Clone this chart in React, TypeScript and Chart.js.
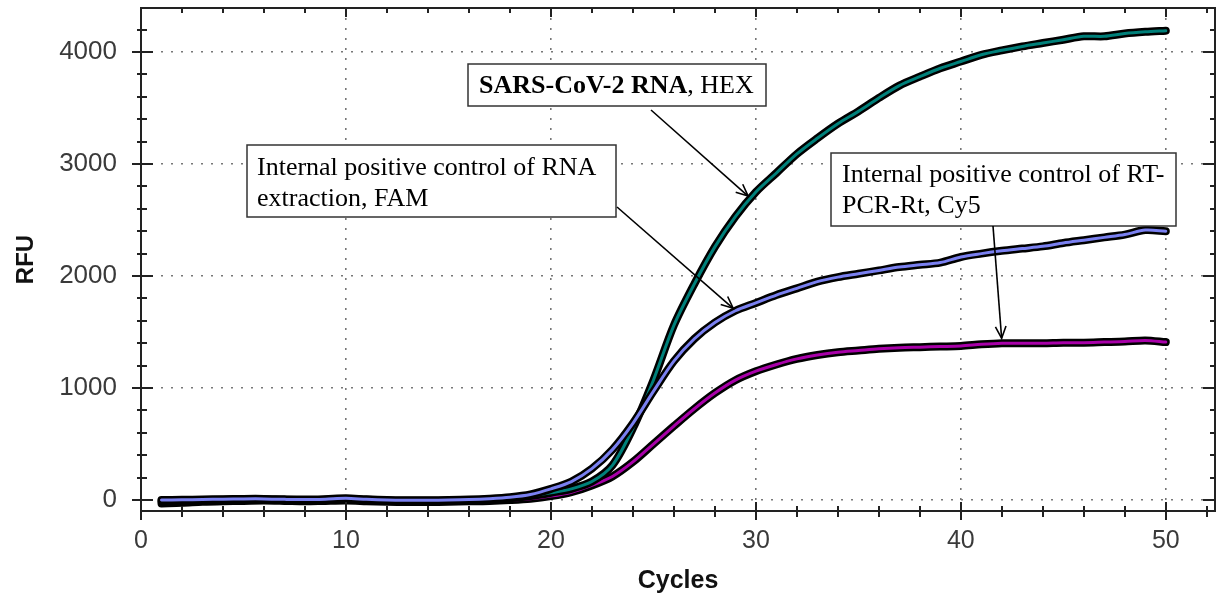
import React, { useEffect, useRef } from 'react';
import { Chart, registerables } from 'chart.js';

Chart.register(...registerables);

// ---- data ----
const cycles = [
  1, 2, 3, 4, 5, 6, 7, 8, 9, 10,
  11, 12, 13, 14, 15, 16, 17, 18, 19, 20,
  21, 22, 23, 24, 25, 26, 27, 28, 29, 30,
  31, 32, 33, 34, 35, 36, 37, 38, 39, 40,
  41, 42, 43, 44, 45, 46, 47, 48, 49, 50,
];

const hexValues = [
  -10, -8, -2, 3, 5, 6, 2, 0, 4, 10,
  2, -4, -6, -6, -5, -2, 5, 15, 35, 65,
  100, 165, 310, 640, 1070, 1560, 1930, 2260, 2530, 2750,
  2920, 3090, 3230, 3360, 3470, 3590, 3700, 3780, 3855, 3915,
  3975, 4015, 4050, 4080, 4110, 4140, 4140, 4165, 4180, 4190,
];

const famValues = [
  0, 2, 5, 8, 10, 10, 6, 4, 8, 15,
  6, 0, -2, -2, 0, 4, 12, 25, 50, 100,
  165, 280, 450, 685, 970, 1240, 1440, 1585, 1690, 1760,
  1830, 1890, 1950, 1990, 2020, 2050, 2080, 2100, 2120, 2170,
  2200, 2225, 2245, 2265, 2295, 2320, 2345, 2370, 2410, 2400,
];

const cy5Values = [
  -30, -25, -15, -10, -8, -5, -8, -12, -8, -5,
  -10, -15, -18, -18, -15, -12, -8, 0, 12, 35,
  70, 130, 210, 340, 500, 660, 815, 955, 1070, 1150,
  1210, 1260, 1295, 1320, 1335, 1350, 1360, 1365, 1370, 1375,
  1390, 1400, 1400, 1400, 1405, 1405, 1410, 1415, 1425, 1410,
];

const xTickValues = [0, 10, 20, 30, 40, 50];
const xTickLabels = ['0', '10', '20', '30', '40', '50'];
const yTickValues = [0, 1000, 2000, 3000, 4000];
const yTickLabels = ['0', '1000', '2000', '3000', '4000'];

const X_MIN = 0;
const X_MAX = 52.4;
const Y_MIN = -98;
const Y_MAX = 4393;
const X_MINOR = 2;
const Y_MINOR = 200;

// annotation arrow targets in data coordinates [cycle, RFU]
const hexArrowTip = [29.62, 2714];
const famArrowTip = [28.89, 1712];
const cy5ArrowTip = [41.99, 1444];

const SERIF = '"Liberation Serif", "Times New Roman", serif';
const SANS = '"Liberation Sans", Arial, sans-serif';

function drawArrow(ctx: CanvasRenderingContext2D, x1: number, y1: number, x2: number, y2: number) {
  ctx.beginPath();
  ctx.moveTo(x1, y1);
  ctx.lineTo(x2, y2);
  ctx.stroke();
  const ang = Math.atan2(y2 - y1, x2 - x1);
  const len = 13;
  const spread = 0.42;
  ctx.beginPath();
  ctx.moveTo(x2 - len * Math.cos(ang - spread), y2 - len * Math.sin(ang - spread));
  ctx.lineTo(x2, y2);
  ctx.lineTo(x2 - len * Math.cos(ang + spread), y2 - len * Math.sin(ang + spread));
  ctx.stroke();
}

function drawBox(ctx: CanvasRenderingContext2D, l: number, t: number, r: number, b: number) {
  ctx.fillStyle = '#ffffff';
  ctx.fillRect(l, t, r - l, b - t);
  ctx.strokeStyle = '#333333';
  ctx.lineWidth = 1.5;
  ctx.strokeRect(l, t, r - l, b - t);
}

const framePlugin = {
  id: 'frameTicks',
  afterDatasetsDraw(chart: any) {
    const { ctx, chartArea: a, scales } = chart;
    const xs = scales.x;
    const ys = scales.y;
    ctx.save();
    ctx.strokeStyle = '#222222';
    ctx.lineWidth = 2;
    ctx.strokeRect(a.left, a.top, a.right - a.left, a.bottom - a.top);
    // x ticks
    for (let v = X_MIN; v <= X_MAX + 1e-6; v += X_MINOR) {
      const px = Math.round(xs.getPixelForValue(v));
      const major = xTickValues.includes(v);
      ctx.beginPath();
      ctx.moveTo(px, a.bottom - (major ? 9 : 5));
      ctx.lineTo(px, a.bottom + (major ? 9 : 6));
      ctx.moveTo(px, a.top);
      ctx.lineTo(px, a.top + (major ? 9 : 5));
      ctx.stroke();
    }
    // y ticks
    for (let v = 0; v <= Y_MAX + 1e-6; v += Y_MINOR) {
      const py = Math.round(ys.getPixelForValue(v));
      const major = yTickValues.includes(v);
      ctx.beginPath();
      ctx.moveTo(a.left - (major ? 9 : 4), py);
      ctx.lineTo(a.left + (major ? 12 : 6), py);
      ctx.moveTo(a.right, py);
      ctx.lineTo(a.right - (major ? 12 : 5), py);
      ctx.stroke();
    }
    ctx.restore();

    // annotations
    ctx.save();
    ctx.textBaseline = 'alphabetic';
    // HEX box
    drawBox(ctx, 468, 64, 766, 106);
    ctx.fillStyle = '#000000';
    ctx.font = `bold 26px ${SERIF}`;
    const boldTxt = 'SARS-CoV-2 RNA';
    ctx.fillText(boldTxt, 479, 93);
    const bw = ctx.measureText(boldTxt).width;
    ctx.font = `26px ${SERIF}`;
    ctx.fillText(', HEX', 479 + bw, 93);

    // FAM box
    drawBox(ctx, 247, 145, 616, 217);
    ctx.fillStyle = '#000000';
    ctx.font = `26px ${SERIF}`;
    ctx.fillText('Internal positive control of RNA', 257, 175);
    ctx.fillText('extraction, FAM', 257, 206);

    // Cy5 box
    drawBox(ctx, 831, 153, 1176, 226);
    ctx.fillStyle = '#000000';
    ctx.font = `26px ${SERIF}`;
    ctx.fillText('Internal positive control of RT-', 842, 182);
    ctx.fillText('PCR-Rt, Cy5', 842, 213);

    ctx.strokeStyle = '#000000';
    ctx.lineWidth = 1.6;
    drawArrow(ctx, 651, 110, xs.getPixelForValue(hexArrowTip[0]), ys.getPixelForValue(hexArrowTip[1]));
    drawArrow(ctx, 617, 207, xs.getPixelForValue(famArrowTip[0]), ys.getPixelForValue(famArrowTip[1]));
    drawArrow(ctx, 993, 226, xs.getPixelForValue(cy5ArrowTip[0]), ys.getPixelForValue(cy5ArrowTip[1]));
    ctx.restore();
  },
};

function series(values: number[]) {
  return cycles.map((c, i) => ({ x: c, y: values[i] }));
}

export default function App() {
  const ref = useRef<HTMLCanvasElement | null>(null);
  useEffect(() => {
    document.body.style.margin = '0';
    const canvas = ref.current;
    if (!canvas) return;
    const line = (values: number[], color: string, width: number, order: number) => ({
      data: series(values),
      borderColor: color,
      borderWidth: width,
      pointRadius: 0,
      tension: 0.3,
      fill: false,
      order,
      borderCapStyle: 'round' as const,
      borderJoinStyle: 'round' as const,
    });
    const chart = new Chart(canvas, {
      type: 'line',
      data: {
        datasets: [
          line(cy5Values, '#000000', 8, 6),
          line(cy5Values, '#a800a8', 3, 5),
          line(hexValues, '#000000', 8, 4),
          line(hexValues, '#00807a', 3, 3),
          line(famValues, '#000000', 8, 2),
          line(famValues, '#7a80f0', 3, 1),
        ],
      },
      options: {
        animation: false,
        responsive: false,
        devicePixelRatio: 1,
        layout: { padding: { top: 8, right: 6, left: 0, bottom: 0 } },
        plugins: { legend: { display: false }, tooltip: { enabled: false } },
        scales: {
          x: {
            type: 'linear',
            min: X_MIN,
            max: X_MAX,
            border: { display: false, dash: [2, 8] },
            grid: {
              drawTicks: false,
              color: '#777777',
              lineWidth: 1.6,
            },
            afterBuildTicks: (s: any) => {
              s.ticks = xTickValues.map((v) => ({ value: v }));
            },
            ticks: {
              autoSkip: false,
              maxRotation: 0,
              padding: 15,
              color: '#3a3a3a',
              font: { family: SANS, size: 25 },
              callback: (_v: any, i: number) => xTickLabels[i],
            },
            title: {
              display: true,
              text: 'Cycles',
              color: '#111111',
              font: { family: SANS, size: 25, weight: 'bold' },
              padding: { top: 0, bottom: 5 },
            },
            afterFit: (s: any) => {
              s.height = 90;
              s.paddingLeft = 0;
              s.paddingRight = 0;
            },
          },
          y: {
            type: 'linear',
            min: Y_MIN,
            max: Y_MAX,
            border: { display: false, dash: [2, 8] },
            grid: {
              drawTicks: false,
              color: '#777777',
              lineWidth: 1.6,
            },
            afterBuildTicks: (s: any) => {
              s.ticks = yTickValues.map((v) => ({ value: v }));
            },
            ticks: {
              autoSkip: false,
              padding: 24,
              color: '#3a3a3a',
              font: { family: SANS, size: 26 },
              callback: (_v: any, i: number) => yTickLabels[i],
            },
            title: {
              display: true,
              text: 'RFU',
              color: '#111111',
              font: { family: SANS, size: 24, weight: 'bold' },
              padding: { top: 12, bottom: 0 },
            },
            afterFit: (s: any) => {
              s.width = 141;
              s.paddingTop = 0;
              s.paddingBottom = 0;
            },
          },
        },
      },
      plugins: [framePlugin],
    } as any);
    return () => chart.destroy();
  }, []);
  return (
    <div style={{ width: 1221, height: 601 }}>
      <canvas ref={ref} width={1221} height={601} style={{ display: 'block' }} />
    </div>
  );
}
